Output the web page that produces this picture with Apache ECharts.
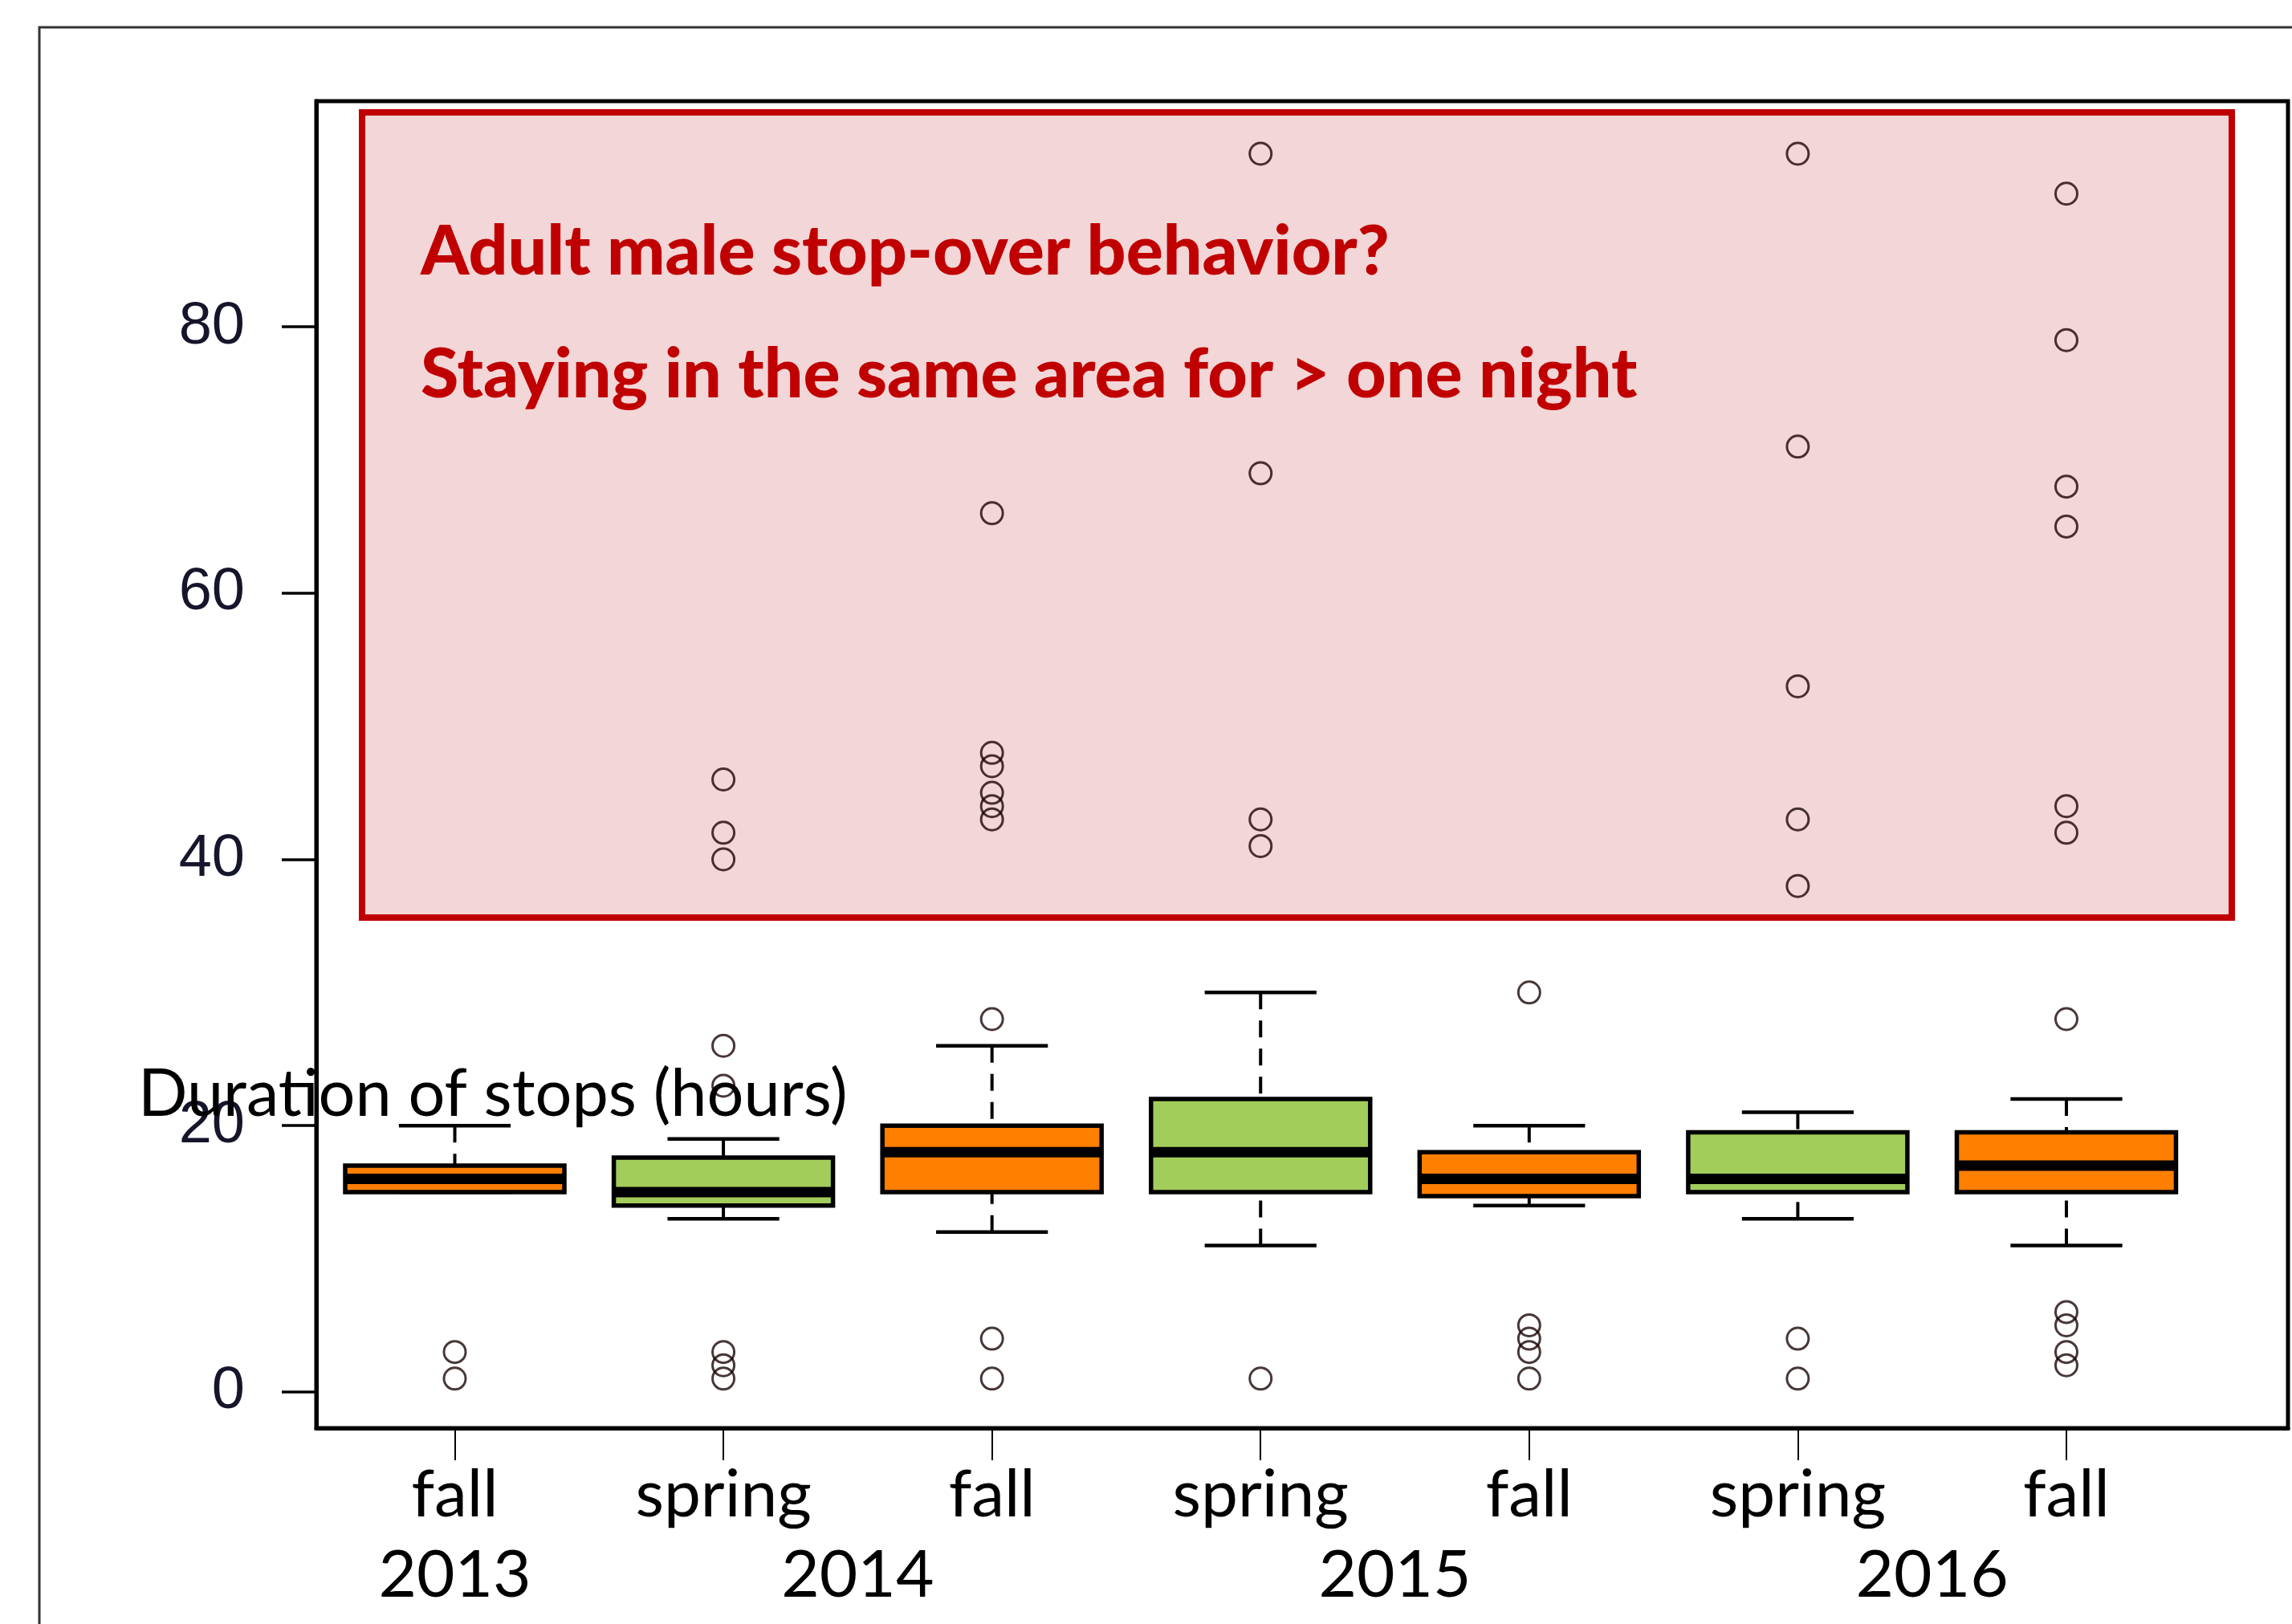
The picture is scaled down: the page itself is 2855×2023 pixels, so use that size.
<!DOCTYPE html>
<html>
<head>
<meta charset="utf-8">
<script src="https://cdn.jsdelivr.net/npm/echarts@6.0.0/dist/echarts.min.js"></script>
<style>
  html, body { margin: 0; padding: 0; background: #fff; }
  #chart { width: 2855px; height: 2023px; }
</style>
</head>
<body>
<div id="chart"></div>
<script>
// Stop durations per migration season (hours)
const seasons = ['fall', 'spring', 'fall', 'spring', 'fall', 'spring', 'fall'];
const yearLabels = ['2013', '2014', '2015', '2016'];
const yearPositions = [0, 1.5, 3.5, 5.5];

const whiskerLow    = [15, 13, 12, 11, 14,   13,   11];
const lowerQuartile = [15, 14, 15, 15, 14.7, 15,   15];
const median        = [16, 15, 18, 18, 16,   16,   17];
const upperQuartile = [17, 17.6, 20, 22, 18, 19.5, 19.5];
const whiskerHigh   = [20, 19, 26, 30, 20,   21,   22];

const outliers = [
  [3, 1],
  [46, 42, 40, 26, 23, 3, 2, 1],
  [66, 48, 47, 45, 44, 43, 28, 4, 1],
  [93, 69, 43, 41, 1],
  [30, 5, 4, 3, 1],
  [93, 71, 53, 43, 38, 4, 1],
  [90, 79, 68, 65, 44, 42, 28, 6, 5, 3, 2]
];

const yTicks = [0, 20, 40, 60, 80];
const yTitle = 'Duration of stops (hours)';
const noteLines = ['Adult male stop-over behavior?', 'Staying in the same area for > one night'];

const seasonColor = { fall: '#FF7F00', spring: '#A2CD5A' };

const boxData = seasons.map((s, i) => [i, whiskerLow[i], lowerQuartile[i], median[i], upperQuartile[i], whiskerHigh[i]]);
const outlierData = [];
outliers.forEach((vals, i) => vals.forEach(v => outlierData.push([i, v])));

const xIndex = seasons.map((s, i) => i);

function renderBox(params, api) {
  const i = api.value(0);
  const pLow = api.coord([i, api.value(1)]);
  const pQ1 = api.coord([i, api.value(2)]);
  const pMed = api.coord([i, api.value(3)]);
  const pQ3 = api.coord([i, api.value(4)]);
  const pHigh = api.coord([i, api.value(5)]);
  const unit = api.size([1, 0])[0];
  const bw = unit * 0.816;
  const cw = bw * 0.51;
  const x = pQ1[0];
  const dash = { stroke: '#000', lineWidth: 4, lineDash: [21, 14] };
  const solid = { stroke: '#000', lineWidth: 4.5 };
  return {
    type: 'group',
    children: [
      { type: 'line', shape: { x1: x, y1: pHigh[1], x2: x, y2: pQ3[1] }, style: dash },
      { type: 'line', shape: { x1: x, y1: pLow[1], x2: x, y2: pQ1[1] }, style: dash },
      { type: 'line', shape: { x1: x - cw / 2, y1: pHigh[1], x2: x + cw / 2, y2: pHigh[1] }, style: solid },
      { type: 'line', shape: { x1: x - cw / 2, y1: pLow[1], x2: x + cw / 2, y2: pLow[1] }, style: solid },
      { type: 'rect', shape: { x: x - bw / 2, y: pQ3[1], width: bw, height: pQ1[1] - pQ3[1] },
        style: { fill: seasonColor[seasons[i]], stroke: '#000', lineWidth: 5.5 } },
      { type: 'line', shape: { x1: x - bw / 2, y1: pMed[1], x2: x + bw / 2, y2: pMed[1] },
        style: { stroke: '#000', lineWidth: 13 } }
    ]
  };
}

const chart = echarts.init(document.getElementById('chart'), null, { renderer: 'canvas' });

const xMin = -0.5156, xMax = 6.825;

chart.setOption({
  animation: false,
  backgroundColor: '#fff',
  grid: { left: 394, right: 5, top: 126, bottom: 244, show: true, borderColor: '#000', borderWidth: 5, backgroundColor: 'transparent' },
  xAxis: [
    {
      type: 'value', min: xMin, max: xMax, position: 'bottom',
      axisLine: { show: true, onZero: false, lineStyle: { color: '#000', width: 5 } },
      splitLine: { show: false },
      axisTick: { show: true, customValues: xIndex, length: 40, lineStyle: { color: '#000', width: 2 } },
      axisLabel: {
        customValues: xIndex, margin: 43,
        formatter: v => seasons[Math.round(v)],
        fontFamily: 'Lato', fontSize: 82, color: '#000', lineHeight: 82
      }
    },
    {
      type: 'value', min: xMin, max: xMax, position: 'bottom', offset: 0,
      axisLine: { show: false }, axisTick: { show: false }, splitLine: { show: false },
      axisLabel: {
        customValues: yearPositions, margin: 143,
        formatter: v => yearLabels[yearPositions.indexOf(v)],
        fontFamily: 'Lato', fontSize: 82, color: '#000', lineHeight: 82
      }
    }
  ],
  yAxis: {
    type: 'value', min: -2.72, max: 96.95,
    axisLine: { show: true, onZero: false, lineStyle: { color: '#000', width: 5 } },
    splitLine: { show: false },
    axisTick: { show: true, customValues: yTicks, length: 43, lineStyle: { color: '#000', width: 3.5 } },
    axisLabel: { customValues: yTicks, margin: 89, fontFamily: 'Liberation Sans', fontSize: 74, color: '#15152b' }
  },
  graphic: [
    { type: 'rect', z: 0, silent: true, shape: { x: 49, y: 34, width: 3000, height: 3000 },
      style: { fill: 'none', stroke: '#333', lineWidth: 3 } },
    { type: 'rect', z: 1, silent: true, shape: { x: 451, y: 140, width: 2329, height: 1003 },
      style: { fill: '#F3D6D7', stroke: '#C00000', lineWidth: 8 } },
    { type: 'text', z: 10, silent: true, x: 524, y: 314,
      style: { text: noteLines[0], fill: '#C00000', font: '900 86px Lato', align: 'left', verticalAlign: 'middle' } },
    { type: 'text', z: 10, silent: true, x: 524, y: 467,
      style: { text: noteLines[1], fill: '#C00000', font: '900 86px Lato', align: 'left', verticalAlign: 'middle' } },
    { type: 'text', z: 10, silent: true, x: 172, y: 1364,
      style: { text: yTitle, fill: '#000', font: '81px Lato', align: 'left', verticalAlign: 'middle' } }
  ],
  series: [
    {
      type: 'custom', name: 'stops', z: 3,
      renderItem: renderBox,
      encode: { x: 0, y: [1, 2, 3, 4, 5] },
      data: boxData
    },
    {
      type: 'scatter', name: 'outliers', z: 4,
      symbol: 'circle', symbolSize: 27,
      itemStyle: { color: 'transparent', borderColor: '#1a0505', borderWidth: 3 },
      data: outlierData
    }
  ]
});
</script>
</body>
</html>
